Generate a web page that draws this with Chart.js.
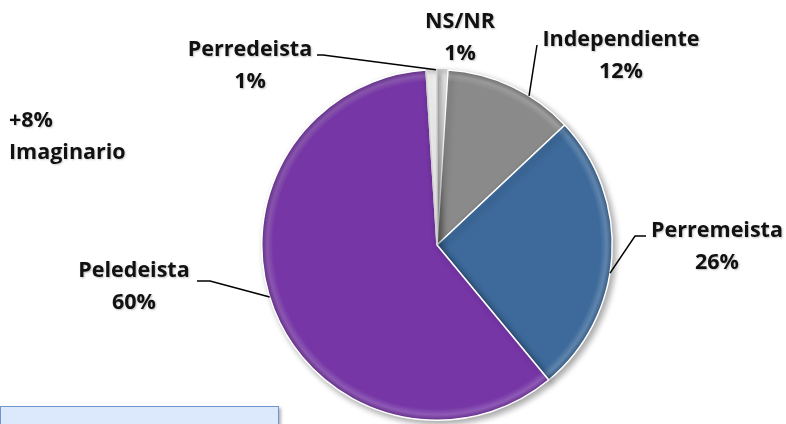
<!DOCTYPE html>
<html>
<head>
<meta charset="utf-8">
<script src="https://cdn.jsdelivr.net/npm/chart.js@4.4.0/dist/chart.umd.min.js"></script>
<style>
  body{margin:0;background:#fff;}
  .wrap{position:relative;width:786px;height:424px;overflow:hidden;}
  .note{position:absolute;left:9px;top:103px;font:bold 21.5px "Open Sans",Lato,sans-serif;line-height:32px;color:#111;text-shadow:1px 1px 2px rgba(0,0,0,0.2);}
  .box{position:absolute;left:0;top:406px;width:277px;height:40px;background:#dce8fb;border:1px solid #6f95cc;box-shadow:2px 2px 3px rgba(0,0,0,0.3);}
</style>
</head>
<body>
<div class="wrap">
  <canvas id="myChart" width="786" height="424"></canvas>
  <div class="note">+8%<br>Imaginario</div>
  <div class="box"></div>
</div>
<script>
/*data*/
const categories = ['NS/NR', 'Independiente', 'Perremeista', 'Peledeista', 'Perredeista'];
const values = [1, 12, 26, 60, 1];
const sliceColors = ['#f6f6f6', '#8a8a8a', '#3d6a9b', '#7636a6', '#f6f6f6'];

/*label layout: center of the name line, leader line start, and where along the slice it lands (0..1)*/
const labelPos = [
  {x: 460, y: 22, line: null},
  {x: 621, y: 40, line: [[537, 45]], at: 0.65},
  {x: 717, y: 231, line: [[646, 236], [635, 236]], at: 0.56},
  {x: 134, y: 271, line: [[197, 281], [210, 281]], at: 0.52},
  {x: 250, y: 50, line: [[317, 55], [323, 55]], at: 0.9}
];

const shade = (hex, f) => {
  let n = parseInt(hex.slice(1), 16);
  let r = n >> 16, g = (n >> 8) & 255, b = n & 255;
  const m = v => Math.max(0, Math.min(255, Math.round(f > 0 ? v + (255 - v) * f : v * (1 + f))));
  return 'rgb(' + m(r) + ',' + m(g) + ',' + m(b) + ')';
};

// bevel-ish fill: flat in the middle, light rim, dark edge
const sliceFill = (context) => {
  const chart = context.chart;
  const a = chart.chartArea;
  if(!a) return sliceColors[context.dataIndex];
  const base = sliceColors[context.dataIndex];
  const cx = (a.left + a.right) / 2, cy = (a.top + a.bottom) / 2;
  const r = Math.min(a.right - a.left, a.bottom - a.top) / 2;
  const g = chart.ctx.createRadialGradient(cx, cy, 0, cx, cy, r);
  g.addColorStop(0, base);
  g.addColorStop(0.93, base);
  g.addColorStop(0.965, shade(base, 0.18));
  g.addColorStop(1, shade(base, -0.18));
  return g;
};

const labelsPlugin = {
  id: 'pieLabels',
  beforeDatasetsDraw(chart){
    const c = chart.ctx;
    c.save();
    c.shadowColor = 'rgba(0,0,0,0.35)';
    c.shadowBlur = 6;
    c.shadowOffsetX = 3;
    c.shadowOffsetY = 3;
  },
  afterDatasetsDraw(chart){
    const c = chart.ctx;
    c.restore();
    const arcs = chart.getDatasetMeta(0).data;
    c.save();
    // leader lines
    c.strokeStyle = '#000';
    c.lineWidth = 1.5;
    labelPos.forEach((p, i) => {
      if(!p.line) return;
      const a = arcs[i];
      const ang = a.startAngle + (a.endAngle - a.startAngle) * p.at;
      const ex = a.x + Math.cos(ang) * a.outerRadius;
      const ey = a.y + Math.sin(ang) * a.outerRadius;
      c.beginPath();
      c.moveTo(p.line[0][0], p.line[0][1]);
      for(let k = 1; k < p.line.length; k++) c.lineTo(p.line[k][0], p.line[k][1]);
      c.lineTo(ex, ey);
      c.stroke();
    });
    // text
    c.font = 'bold 21.5px "Open Sans", Lato, sans-serif';
    c.textAlign = 'center';
    c.textBaseline = 'middle';
    c.fillStyle = '#111';
    c.shadowColor = 'rgba(0,0,0,0.25)';
    c.shadowBlur = 2;
    c.shadowOffsetX = 1;
    c.shadowOffsetY = 1;
    labelPos.forEach((p, i) => {
      c.fillText(categories[i], p.x, p.y);
      c.fillText(values[i] + '%', p.x, p.y + 32);
    });
    c.restore();
  }
};

var ctx = document.getElementById('myChart').getContext('2d');
var myChart = new Chart(ctx, {
  type: 'pie',
  data: {
    labels: categories,
    datasets: [{
      data: values,
      backgroundColor: sliceFill,
      borderColor: ['#d0d0d0', '#fff', '#fff', '#fff', '#d0d0d0'],
      borderWidth: 1.5
    }]
  },
  options: {
    responsive: false,
    animation: false,
    layout: {padding: {top: 69, bottom: 3, left: 261, right: 173}},
    plugins: {
      legend: {display: false},
      tooltip: {enabled: false}
    }
  },
  plugins: [labelsPlugin]
});
</script>
</body>
</html>
